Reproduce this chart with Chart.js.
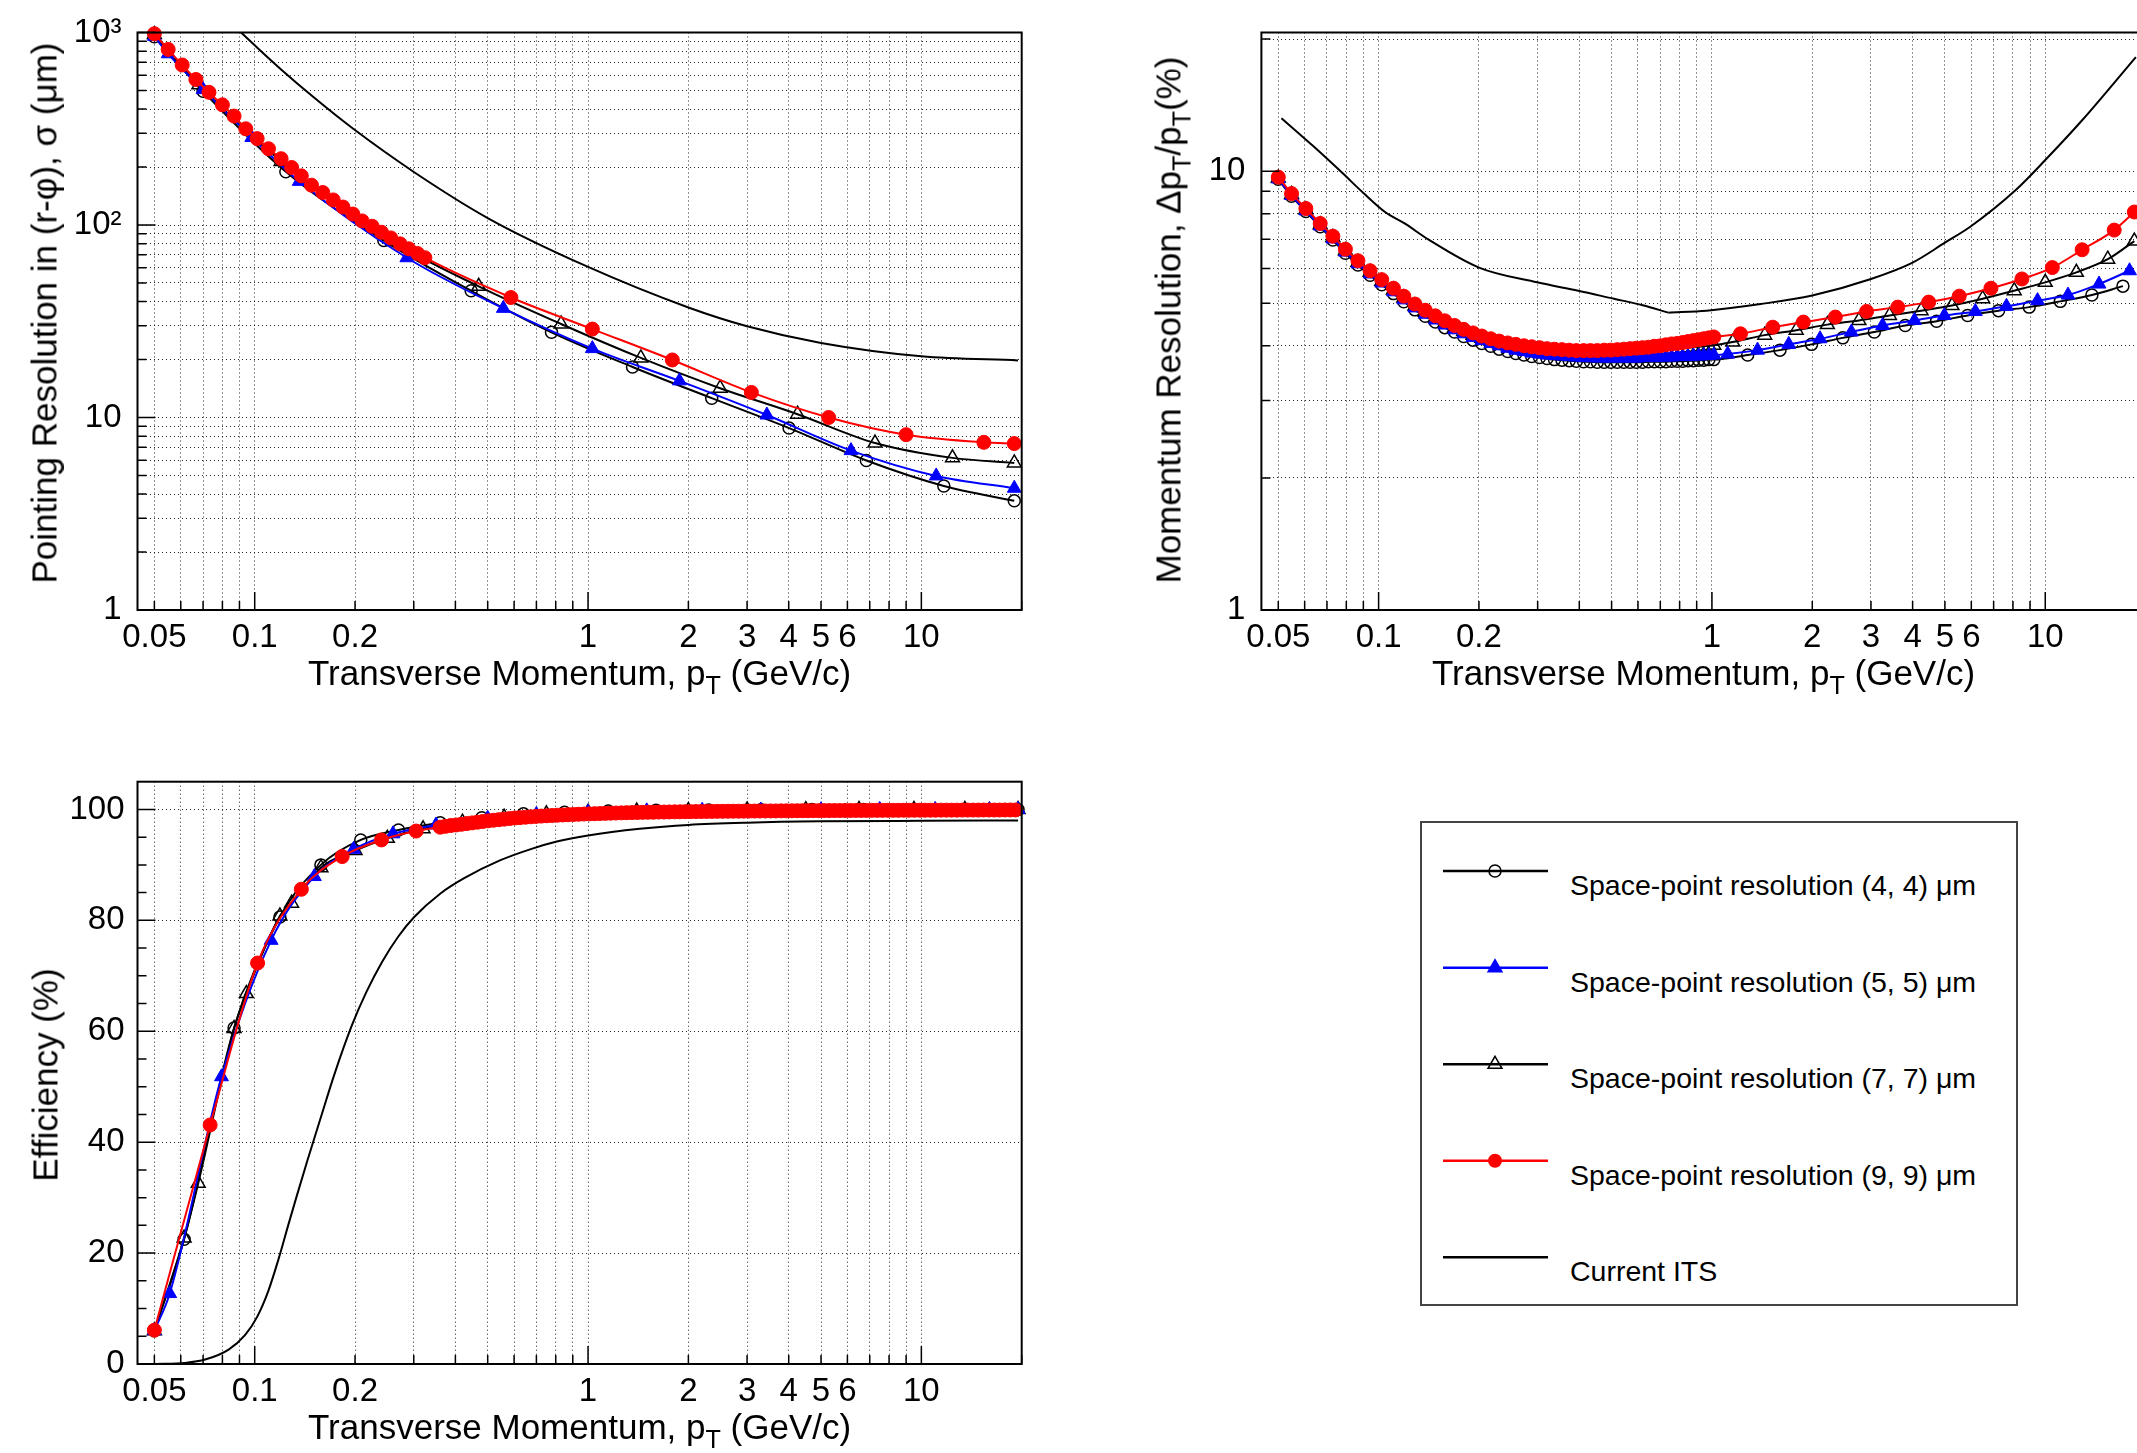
<!DOCTYPE html>
<html>
<head>
<meta charset="utf-8">
<script src="https://cdn.jsdelivr.net/npm/chart.js@4.4.1/dist/chart.umd.min.js"></script>
<style>
  html, body { margin: 0; padding: 0; background: #fff; }
  body { width: 2137px; height: 1453px; overflow: hidden; position: relative;
         font-family: "Liberation Sans", Arial, Helvetica, sans-serif; color: #000; }
  canvas { position: absolute; }
  .title { position: absolute; font-size: 35px; line-height: 1; white-space: nowrap;
           transform: translate(-50%, -50%); }
  .title.rot { transform: translate(-50%, -50%) rotate(-90deg); }
  .title sub { font-size: 0.72em; vertical-align: -0.38em; line-height: 0; }
  #legend { position: absolute; left: 1410px; top: 810px; }
</style>
</head>
<body>
<canvas id="pointing" width="1060" height="700" style="left:0;top:0"></canvas>
<canvas id="momentum" width="1100" height="700" style="left:1100px;top:0"></canvas>
<canvas id="efficiency" width="1060" height="700" style="left:0;top:740px"></canvas>

<div class="title" style="left:579.6px;top:672px">Transverse Momentum, p<sub>T</sub> (GeV/c)</div>
<div class="title" style="left:1703.5px;top:672px">Transverse Momentum, p<sub>T</sub> (GeV/c)</div>
<div class="title" style="left:579.6px;top:1426px">Transverse Momentum, p<sub>T</sub> (GeV/c)</div>
<div class="title rot" style="left:44px;top:313px">Pointing Resolution in (r-φ), σ (μm)</div>
<div class="title rot" style="left:1168px;top:320px">Momentum Resolution, Δp<sub>T</sub>/p<sub>T</sub>(%)</div>
<div class="title rot" style="left:45px;top:1075px">Efficiency (%)</div>

<svg id="legend" width="620" height="510" viewBox="0 0 620 510"></svg>

<script>
// ---- axis ticks ----
const ptTicks = [0.05, 0.06, 0.07, 0.08, 0.09, 0.1, 0.2, 0.3, 0.4, 0.5, 0.6, 0.7, 0.8, 0.9,
                 1, 2, 3, 4, 5, 6, 7, 8, 9, 10, 20];
const ptLabels = [0.05, 0.1, 0.2, 1, 2, 3, 4, 5, 6, 10];
const resTicks = [1, 2, 3, 4, 5, 6, 7, 8, 9, 10, 20, 30, 40, 50, 60, 70, 80, 90,
                  100, 200, 300, 400, 500, 600, 700, 800, 900, 1000];
const resLabels = { 1: '1', 10: '10', 100: '10²', 1000: '10³' };
const momTicks = [1, 2, 3, 4, 5, 6, 7, 8, 9, 10, 20];
const momLabels = { 1: '1', 10: '10' };
const effTicks = [0, 5, 10, 15, 20, 25, 30, 35, 40, 45, 50, 55, 60, 65, 70, 75, 80, 85, 90, 95, 100];

const legendLabels = [
  'Space-point resolution (4, 4) μm',
  'Space-point resolution (5, 5) μm',
  'Space-point resolution (7, 7) μm',
  'Space-point resolution (9, 9) μm',
  'Current ITS'
];

// ---- pointing resolution (μm) ----
const res44Pt = [0.05, 0.07, 0.124, 0.244, 0.446, 0.777, 1.36, 2.35, 4.01, 6.84, 11.68, 19.0];
const res44   = [950, 495, 189, 83, 45.5, 27.7, 18.3, 12.6, 8.81, 5.98, 4.41, 3.69];
const res55Pt = [0.05, 0.055, 0.07, 0.098, 0.136, 0.286, 0.557, 1.03, 1.88, 3.44, 6.15, 11.08, 19.0];
const res55   = [955, 775, 505, 285, 168.6, 67.6, 36.9, 22.8, 15.5, 10.3, 6.73, 4.97, 4.29];
const res77Pt = [0.05, 0.068, 0.12, 0.26, 0.47, 0.83, 1.44, 2.49, 4.25, 7.26, 12.4, 19.0];
const res77   = [975, 535, 214, 82, 48, 30.6, 20.4, 14.2, 10.4, 7.37, 6.17, 5.81];
const res99Pt = [0.05, 0.055, 0.0606, 0.0666, 0.0729, 0.08, 0.0867, 0.094, 0.1017, 0.11, 0.12,
                 0.129, 0.138, 0.148, 0.16, 0.172, 0.184, 0.197, 0.21, 0.225, 0.24, 0.256, 0.273,
                 0.29, 0.308, 0.324, 0.587, 1.03, 1.79, 3.09, 5.27, 9.0, 15.4, 19.0];
const res99   = [985, 817, 678, 570, 489, 421, 368, 316, 281, 249, 221, 199, 180, 161, 147.5,
                 135, 124, 114, 105, 98.5, 91.7, 85.7, 79.8, 75.2, 71.1, 67.6, 42.0, 28.8, 19.9,
                 13.5, 10.0, 8.14, 7.43, 7.32];
const resItsPt = [0.085, 0.091, 0.1, 0.12, 0.15, 0.198, 0.301, 0.5, 0.985, 2.0, 3.0, 5.0, 10.0, 19.5];
const resIts   = [1119, 1000, 858, 643, 462, 315, 188, 108.7, 61.3, 37.3, 29.8, 24.4, 20.8, 19.8];

// ---- momentum resolution (%) ----
const momPtDense = [0.05, 0.0548, 0.0605, 0.0668, 0.0729, 0.0795, 0.0867, 0.0943, 0.1022, 0.1108,
                    0.119, 0.1285, 0.138, 0.148, 0.158, 0.169, 0.18, 0.192, 0.204, 0.217, 0.23,
                    0.244, 0.258, 0.273, 0.288, 0.304, 0.32, 0.337, 0.355, 0.373, 0.392, 0.412,
                    0.432, 0.453, 0.475, 0.497, 0.52, 0.544, 0.568, 0.593, 0.619, 0.645, 0.672,
                    0.7, 0.728, 0.757, 0.787, 0.817, 0.848, 0.88, 0.912, 0.945, 0.979, 1.013];
const mom44Dense = [9.58, 8.77, 8.09, 7.47, 6.97, 6.50, 6.11, 5.79, 5.51, 5.26, 5.04, 4.83, 4.67,
                    4.53, 4.40, 4.30, 4.20, 4.12, 4.05, 3.99, 3.93, 3.88, 3.84, 3.81, 3.78, 3.76,
                    3.74, 3.72, 3.71, 3.70, 3.69, 3.68, 3.68, 3.67, 3.67, 3.67, 3.67, 3.67, 3.67,
                    3.67, 3.67, 3.68, 3.68, 3.68, 3.68, 3.69, 3.69, 3.69, 3.70, 3.70, 3.71, 3.71,
                    3.72, 3.72];
const mom44TailPt = [1.28, 1.60, 1.99, 2.47, 3.07, 3.80, 4.72, 5.85, 7.24, 8.95, 11.1, 13.8, 17.1];
const mom44Tail   = [3.81, 3.91, 4.03, 4.17, 4.30, 4.45, 4.55, 4.69, 4.81, 4.90, 5.05, 5.22, 5.47];
const mom55Dense = [9.60, 8.80, 8.12, 7.50, 7.01, 6.54, 6.15, 5.83, 5.56, 5.31, 5.09, 4.88, 4.72,
                    4.58, 4.46, 4.35, 4.26, 4.18, 4.11, 4.05, 4.00, 3.95, 3.91, 3.88, 3.85, 3.83,
                    3.81, 3.80, 3.79, 3.78, 3.77, 3.76, 3.76, 3.75, 3.75, 3.75, 3.75, 3.75, 3.75,
                    3.75, 3.76, 3.76, 3.76, 3.77, 3.77, 3.77, 3.78, 3.78, 3.78, 3.79, 3.79, 3.80,
                    3.80, 3.81];
const mom55TailPt = [1.115, 1.37, 1.70, 2.11, 2.62, 3.25, 4.05, 4.98, 6.17, 7.65, 9.48, 11.7, 14.5, 17.9];
const mom55Tail   = [3.83, 3.91, 4.03, 4.15, 4.30, 4.45, 4.57, 4.69, 4.79, 4.92, 5.07, 5.22, 5.53, 5.93];
const mom77Dense = [9.65, 8.85, 8.17, 7.55, 7.06, 6.59, 6.20, 5.88, 5.61, 5.36, 5.14, 4.93, 4.77,
                    4.63, 4.51, 4.40, 4.31, 4.23, 4.16, 4.10, 4.05, 4.01, 3.97, 3.94, 3.92, 3.90,
                    3.88, 3.87, 3.86, 3.85, 3.84, 3.84, 3.84, 3.84, 3.84, 3.85, 3.85, 3.86, 3.86,
                    3.87, 3.88, 3.89, 3.90, 3.91, 3.92, 3.93, 3.94, 3.95, 3.96, 3.97, 3.98, 3.99,
                    4.00, 4.01];
const mom77TailPt = [1.155, 1.44, 1.79, 2.22, 2.76, 3.41, 4.24, 5.25, 6.49, 8.07, 10.0, 12.4, 15.4, 18.5];
const mom77Tail   = [4.08, 4.23, 4.34, 4.47, 4.57, 4.69, 4.81, 4.94, 5.12, 5.34, 5.58, 5.88, 6.30, 6.93];
const mom99Dense = [9.69, 8.89, 8.22, 7.60, 7.11, 6.64, 6.25, 5.93, 5.66, 5.41, 5.19, 4.98, 4.82,
                    4.68, 4.56, 4.45, 4.36, 4.28, 4.21, 4.15, 4.10, 4.06, 4.03, 4.00, 3.98, 3.96,
                    3.94, 3.93, 3.92, 3.91, 3.90, 3.90, 3.90, 3.90, 3.91, 3.91, 3.92, 3.93, 3.94,
                    3.95, 3.96, 3.97, 3.99, 4.00, 4.02, 4.04, 4.05, 4.07, 4.09, 4.11, 4.13, 4.15,
                    4.17, 4.19];
const mom99TailPt = [1.218, 1.522, 1.88, 2.345, 2.91, 3.61, 4.47, 5.52, 6.87, 8.51, 10.5, 12.9, 16.1, 18.5];
const mom99Tail   = [4.26, 4.41, 4.53, 4.65, 4.79, 4.90, 5.03, 5.19, 5.41, 5.68, 6.03, 6.62, 7.34, 8.07];
// current ITS: falling branch up to the kink at 0.74 GeV/c, then rising branch
const momItsFallPt = [0.0511, 0.064, 0.0779, 0.09, 0.1048, 0.12, 0.1409, 0.2, 0.299, 0.397, 0.508, 0.62, 0.74];
const momItsFall   = [13.2, 11.36, 9.90, 8.92, 8.06, 7.59, 6.99, 6.03, 5.58, 5.34, 5.12, 4.95, 4.76];
const momItsRisePt = [0.74, 0.964, 1.4, 2.0, 3.0, 4.0, 5.0, 6.0, 8.17, 10.0, 12.9, 18.7];
const momItsRise   = [4.76, 4.81, 4.98, 5.21, 5.68, 6.19, 6.87, 7.50, 9.07, 10.6, 13.06, 18.2];

// ---- tracking efficiency (%) ----
const eff44Pt = [0.05, 0.0614, 0.0867, 0.119, 0.158, 0.208, 0.27, 0.36, 0.48, 0.64, 0.85, 1.15,
                 1.6, 2.3, 3.3, 4.7, 6.7, 9.5, 13.5, 19.5];
const eff44   = [6.0, 22.5, 60.6, 80.6, 90.0, 94.5, 96.3, 97.6, 98.5, 99.2, 99.5, 99.7,
                 99.85, 99.9, 99.95, 100, 100, 100, 100, 100];
const eff55Pt = [0.05, 0.0556, 0.0795, 0.112, 0.151, 0.198, 0.26, 0.35, 0.5, 0.7, 1.0, 1.5, 2.2,
                 3.3, 5.0, 7.5, 11.0, 16.0, 19.5];
const eff55   = [6.0, 12.7, 51.8, 76.4, 87.9, 92.8, 95.6, 97.2, 98.4, 99.1, 99.5, 99.75, 99.85,
                 99.9, 99.95, 100, 100, 100, 100];
const eff77Pt = [0.05, 0.0614, 0.0677, 0.0867, 0.0944, 0.119, 0.129, 0.158, 0.2, 0.25, 0.32, 0.42,
                 0.56, 0.75, 1.0, 1.4, 2.0, 3.0, 4.5, 6.5, 9.5, 13.5, 19.5];
const eff77   = [6.0, 22.7, 32.6, 60.5, 66.8, 80.8, 83.1, 89.5, 92.6, 94.8, 96.5, 97.7,
                 98.6, 99.2, 99.5, 99.7, 99.8, 99.9, 99.95, 100, 100, 100, 100];
const eff99HeadPt = [0.05, 0.0735, 0.102, 0.138, 0.183, 0.24, 0.305];
const eff99Head   = [6.1, 43.1, 72.3, 85.6, 91.5, 94.5, 96.1];
const eff99DensePt = [
  0.36, 0.3735, 0.3875, 0.402, 0.417, 0.433, 0.449, 0.466, 0.483, 0.501,
  0.52, 0.54, 0.56, 0.581, 0.603, 0.625, 0.649, 0.673, 0.698, 0.724,
  0.752, 0.78, 0.809, 0.839, 0.871, 0.904, 0.937, 0.973, 1.009, 1.047,
  1.086, 1.127, 1.169, 1.213, 1.259, 1.306, 1.355, 1.406, 1.458, 1.513,
  1.57, 1.629, 1.69, 1.753, 1.819, 1.887, 1.958, 2.031, 2.107, 2.186,
  2.268, 2.353, 2.441, 2.533, 2.628, 2.726, 2.828, 2.934, 3.044, 3.158,
  3.277, 3.399, 3.527, 3.659, 3.796, 3.938, 4.086, 4.239, 4.398, 4.563,
  4.734, 4.911, 5.095, 5.286, 5.484, 5.69, 5.903, 6.124, 6.354, 6.592,
  6.839, 7.095, 7.361, 7.637, 7.924, 8.221, 8.529, 8.849, 9.181, 9.525,
  9.882, 10.25, 10.64, 11.03, 11.45, 11.88, 12.32, 12.78, 13.26, 13.76,
  14.28, 14.81, 15.37, 15.94, 16.54, 17.16, 17.8, 18.47, 19.16];
const eff99Dense = [
  96.8, 96.95, 97.1, 97.2, 97.32, 97.45, 97.57, 97.7, 97.82, 97.95,
  98.05, 98.15, 98.25, 98.35, 98.45, 98.52, 98.6, 98.67, 98.74, 98.8,
  98.86, 98.91, 98.96, 99.0, 99.05, 99.09, 99.13, 99.17, 99.2, 99.23,
  99.26, 99.29, 99.32, 99.35, 99.38, 99.41, 99.43, 99.45, 99.47, 99.49,
  99.5, 99.52, 99.53, 99.55, 99.56, 99.57, 99.59, 99.6, 99.61, 99.62,
  99.63, 99.64, 99.65, 99.66, 99.67, 99.68, 99.68, 99.69, 99.7, 99.71,
  99.71, 99.72, 99.73, 99.73, 99.74, 99.75, 99.75, 99.76, 99.77, 99.77,
  99.78, 99.78, 99.79, 99.79, 99.8, 99.8, 99.81, 99.81, 99.82, 99.82,
  99.82, 99.83, 99.83, 99.83, 99.84, 99.84, 99.84, 99.85, 99.85, 99.85,
  99.86, 99.86, 99.86, 99.86, 99.87, 99.87, 99.87, 99.87, 99.88, 99.88,
  99.88, 99.88, 99.89, 99.89, 99.89, 99.89, 99.9, 99.9, 99.9];
const effItsPt = [0.05, 0.0618, 0.071, 0.0835, 0.0935, 0.1017, 0.1096, 0.118, 0.126, 0.134, 0.1436,
                  0.157, 0.174, 0.1955, 0.216, 0.241, 0.269, 0.301, 0.36, 0.425, 0.544, 0.67,
                  0.806, 1.0, 1.43, 2.0, 3.0, 5.0, 10.0, 19.5];
const effIts   = [0, 0.2, 0.8, 2.6, 5.2, 8.5, 13, 19, 25, 30.5, 36.5,
                  44, 52.5, 61, 67, 72.5, 77, 80.6, 84.8, 87.6, 90.8, 92.8,
                  94.2, 95.3, 96.5, 97.2, 97.6, 97.85, 97.95, 98.0];

// ---------------------------------------------------------------
Chart.defaults.font.family = '"Liberation Sans", Arial, Helvetica, sans-serif';
Chart.defaults.color = '#000';

const GRID = 'rgba(0,0,0,0.85)';
const zip = (xs, ys) => xs.map((x, i) => ({ x: x, y: ys[i] }));

const looks = {
  r44: { borderColor: '#000', pointStyle: 'circle', pointRadius: 6, pointBorderWidth: 1.5,
         pointBackgroundColor: 'rgba(0,0,0,0)', pointBorderColor: '#000' },
  r55: { borderColor: '#0000ff', pointStyle: 'triangle', pointRadius: 8, pointBorderWidth: 1,
         pointBackgroundColor: '#0000ff', pointBorderColor: '#0000ff' },
  r77: { borderColor: '#000', pointStyle: 'triangle', pointRadius: 8, pointBorderWidth: 1.5,
         pointBackgroundColor: 'rgba(0,0,0,0)', pointBorderColor: '#000' },
  r99: { borderColor: '#ff0000', pointStyle: 'circle', pointRadius: 7, pointBorderWidth: 1,
         pointBackgroundColor: '#ff0000', pointBorderColor: '#ff0000' },
  its: { borderColor: '#000', pointRadius: 0, clip: 0 }
};

function series(data, look) {
  return Object.assign({ data: data, borderWidth: 2, fill: false, clip: 10,
                         cubicInterpolationMode: 'monotone', pointHoverRadius: 0 }, look);
}

// inward tick marks plus the frame around the plot area
const frameTicks = {
  id: 'frameTicks',
  afterDatasetsDraw(chart) {
    const { ctx, chartArea: a, scales } = chart;
    const major = (scale, v) => scale.type === 'logarithmic'
      ? Math.abs(Math.log10(v) - Math.round(Math.log10(v))) < 1e-9
      : v % 20 === 0;
    ctx.save();
    ctx.strokeStyle = '#000';
    ctx.lineWidth = 1.5;
    ctx.beginPath();
    scales.x.ticks.forEach(t => {
      const p = scales.x.getPixelForValue(t.value);
      const len = major(scales.x, t.value) ? 18 : 9;
      ctx.moveTo(p, a.bottom);
      ctx.lineTo(p, a.bottom - len);
    });
    scales.y.ticks.forEach(t => {
      const p = scales.y.getPixelForValue(t.value);
      const len = major(scales.y, t.value) ? 18 : 9;
      ctx.moveTo(a.left, p);
      ctx.lineTo(a.left + len, p);
    });
    ctx.stroke();
    ctx.lineWidth = 2;
    ctx.strokeRect(a.left, a.top, a.right - a.left, a.bottom - a.top);
    ctx.restore();
  }
};

function ptAxis(height) {
  return {
    type: 'logarithmic', min: 0.0445, max: 20,
    afterBuildTicks: s => { s.ticks = ptTicks.map(v => ({ value: v })); },
    afterFit: s => { s.height = height; },
    ticks: { autoSkip: false, maxRotation: 0, padding: 11, font: { size: 33, lineHeight: 1 },
             callback: v => ptLabels.includes(v) ? String(v) : '' },
    grid: { color: GRID, lineWidth: 1, drawTicks: false },
    border: { display: false, dash: [1, 3] }
  };
}

function logAxis(min, max, ticks, labels, width) {
  return {
    type: 'logarithmic', min: min, max: max,
    afterBuildTicks: s => { s.ticks = ticks.map(v => ({ value: v })); },
    afterFit: s => { s.width = width; },
    ticks: { autoSkip: false, padding: 16, font: { size: 33, lineHeight: 1 },
             callback: v => labels[v] || '' },
    grid: { color: GRID, lineWidth: 1, drawTicks: false },
    border: { display: false, dash: [1, 3] }
  };
}

function panel(id, datasets, yAxis, xHeight, pad) {
  return new Chart(document.getElementById(id), {
    type: 'line',
    data: { datasets: datasets },
    options: {
      responsive: false, animation: false, devicePixelRatio: 1,
      layout: { padding: pad },
      plugins: { legend: { display: false }, tooltip: { enabled: false } },
      scales: { x: ptAxis(xHeight), y: yAxis }
    },
    plugins: [frameTicks]
  });
}

// pointing resolution
panel('pointing', [
  series(zip(res99Pt, res99), looks.r99),
  series(zip(res55Pt, res55), looks.r55),
  series(zip(res77Pt, res77), looks.r77),
  series(zip(res44Pt, res44), looks.r44),
  series(zip(resItsPt, resIts), looks.its)
], logAxis(1, 1000, resTicks, resLabels, 137.5), 90,
   { top: 28, right: 38.3, left: 0, bottom: 0 });

// momentum resolution (plot runs past the right edge of the page)
panel('momentum', [
  series(zip(momPtDense.concat(mom99TailPt), mom99Dense.concat(mom99Tail)), looks.r99),
  series(zip(momPtDense.concat(mom55TailPt), mom55Dense.concat(mom55Tail)), looks.r55),
  series(zip(momPtDense.concat(mom77TailPt), mom77Dense.concat(mom77Tail)), looks.r77),
  series(zip(momPtDense.concat(mom44TailPt), mom44Dense.concat(mom44Tail)), looks.r44),
  series(zip(momItsFallPt, momItsFall), looks.its),
  series(zip(momItsRisePt, momItsRise), looks.its)
], logAxis(1, 20.7, momTicks, momLabels, 161.4), 90,
   { top: 28, right: 54.4, left: 0, bottom: 0 });

// efficiency
panel('efficiency', [
  series(zip(eff99HeadPt.concat(eff99DensePt), eff99Head.concat(eff99Dense)), looks.r99),
  series(zip(eff55Pt, eff55), looks.r55),
  series(zip(eff77Pt, eff77), looks.r77),
  series(zip(eff44Pt, eff44), looks.r44),
  series(zip(effItsPt, effIts), looks.its)
], {
  type: 'linear', min: 0, max: 105,
  afterBuildTicks: s => { s.ticks = effTicks.map(v => ({ value: v })); },
  afterFit: s => { s.width = 137.5; },
  ticks: { autoSkip: false, padding: 13, font: { size: 33, lineHeight: 1 },
           callback: v => v % 20 === 0 ? String(v) : '' },
  grid: { color: c => (c.tick && c.tick.value % 20 === 0) ? GRID : 'rgba(0,0,0,0)',
          lineWidth: 1, drawTicks: false },
  border: { display: false, dash: [1, 3] }
}, 76, { top: 41.7, right: 38.3, left: 0, bottom: 0 });

// legend box
(function drawLegend() {
  const svg = document.getElementById('legend');
  const NS = 'http://www.w3.org/2000/svg';
  const el = (tag, attrs) => {
    const e = document.createElementNS(NS, tag);
    for (const k in attrs) e.setAttribute(k, attrs[k]);
    svg.appendChild(e);
    return e;
  };
  el('rect', { x: 11, y: 12, width: 596, height: 483, fill: '#fff', stroke: '#444', 'stroke-width': 2 });
  const rowsY = [61, 157.7, 254.3, 350.7, 447.3];
  const colors = ['#000', '#0000ff', '#000', '#ff0000', '#000'];
  legendLabels.forEach((label, i) => {
    const y = rowsY[i];
    el('line', { x1: 33, y1: y, x2: 138, y2: y, stroke: colors[i], 'stroke-width': 2.5 });
    const cx = 85;
    if (i === 0) el('circle', { cx: cx, cy: y, r: 6, fill: 'none', stroke: '#000', 'stroke-width': 1.5 });
    if (i === 3) el('circle', { cx: cx, cy: y, r: 7, fill: '#ff0000' });
    if (i === 1 || i === 2) {
      const r = 8, h = r * Math.sqrt(3) / 2;
      el('polygon', { points: `${cx},${y - r} ${cx + h},${y + r / 2} ${cx - h},${y + r / 2}`,
                      fill: i === 1 ? '#0000ff' : 'none', stroke: i === 1 ? '#0000ff' : '#000',
                      'stroke-width': 1.5 });
    }
    const t = el('text', { x: 160, y: y + 24, 'font-size': 28.5,
                           'font-family': '"Liberation Sans", Arial, Helvetica, sans-serif' });
    t.textContent = label;
  });
})();
</script>
</body>
</html>
